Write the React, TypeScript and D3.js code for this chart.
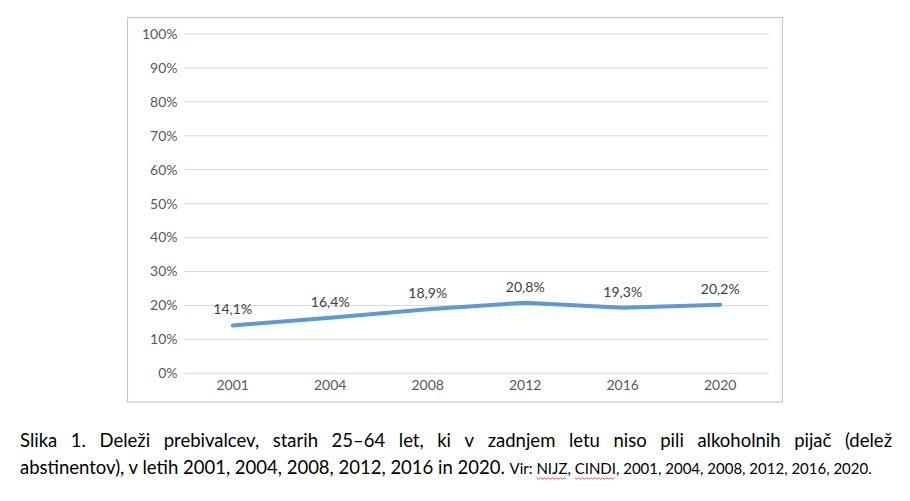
import * as React from 'react';
import { useRef, useEffect } from 'react';
import * as d3 from 'd3';

const years = ['2001', '2004', '2008', '2012', '2016', '2020'];
const abstainers = [14.1, 16.4, 18.9, 20.8, 19.3, 20.2];
const yTicks = [0, 10, 20, 30, 40, 50, 60, 70, 80, 90, 100];

const captionLine1 = 'Slika 1. Deleži prebivalcev, starih 25–64 let, ki v zadnjem letu niso pili alkoholnih pijač (delež';
const captionLine2 = 'abstinentov), v letih 2001, 2004, 2008, 2012, 2016 in 2020.';
const sourceParts = ['Vir: ', 'NIJZ', ', ', 'CINDI', ', 2001, 2004, 2008, 2012, 2016, 2020.'];
const misspelled = ['NIJZ', 'CINDI'];

const W = 910;
const H = 501;
const fmt = (v: number) => v.toFixed(1).replace('.', ',') + '%';

export default function App() {
  const svgRef = useRef<SVGSVGElement | null>(null);

  useEffect(() => {
    if (!svgRef.current) return;
    const svg = d3.select(svgRef.current);
    svg.selectAll('*').remove();

    const font = 'Lato, "Open Sans", sans-serif';
    const plot = { left: 184, right: 769, top: 34, bottom: 373.3 };

    // chart frame
    svg.append('rect')
      .attr('x', 127.5).attr('y', 17.5)
      .attr('width', 655).attr('height', 384.5)
      .attr('fill', '#fff').attr('stroke', '#c8c8c8').attr('stroke-width', 1.2);

    const x = d3.scaleBand().domain(years).range([plot.left, plot.right]);
    const y = d3.scaleLinear().domain([0, 100]).range([plot.bottom, plot.top]);

    const g = svg.append('g');

    // gridlines + y labels
    yTicks.forEach(t => {
      g.append('line')
        .attr('x1', plot.left).attr('x2', plot.right)
        .attr('y1', y(t)).attr('y2', y(t))
        .attr('stroke', '#d9d9d9').attr('stroke-width', 1);
      g.append('text')
        .attr('x', 177.5).attr('y', y(t))
        .attr('dy', '0.35em')
        .attr('text-anchor', 'end')
        .attr('font-family', font).attr('font-size', 14)
        .attr('fill', '#595959')
        .text(`${t}%`);
    });

    // x labels
    years.forEach(yr => {
      g.append('text')
        .attr('x', x(yr)! + x.bandwidth() / 2).attr('y', 385)
        .attr('dy', '0.35em')
        .attr('text-anchor', 'middle')
        .attr('font-family', font).attr('font-size', 14)
        .attr('fill', '#595959')
        .text(yr);
    });

    // line
    const line = d3.line<number>()
      .x((_, i) => x(years[i])! + x.bandwidth() / 2)
      .y(d => y(d));
    g.append('path')
      .datum(abstainers)
      .attr('d', line)
      .attr('fill', 'none')
      .attr('stroke', '#5b9bd5')
      .attr('stroke-width', 4)
      .attr('stroke-linecap', 'round')
      .attr('stroke-linejoin', 'round');

    // data labels
    abstainers.forEach((v, i) => {
      g.append('text')
        .attr('x', x(years[i])! + x.bandwidth() / 2)
        .attr('y', y(v) - 16)
        .attr('dy', '0.35em')
        .attr('text-anchor', 'middle')
        .attr('font-family', font).attr('font-size', 14)
        .attr('fill', '#404040')
        .text(fmt(v));
    });

    // caption, line 1 justified
    const capFont = 18.5;
    const left = 20;
    const right = 892;
    const words = captionLine1.split(' ');
    const wordNodes = words.map(w =>
      svg.append('text')
        .attr('y', 447)
        .attr('font-family', font).attr('font-size', capFont)
        .attr('fill', '#000')
        .text(w)
    );
    const widths = wordNodes.map(n => (n.node() as SVGTextElement).getComputedTextLength());
    const gap = (right - left - d3.sum(widths)) / (words.length - 1);
    let cx = left;
    wordNodes.forEach((n, i) => {
      n.attr('x', cx);
      cx += widths[i] + gap;
    });

    // caption line 2
    const l2 = svg.append('text')
      .attr('x', left).attr('y', 474)
      .attr('font-family', font).attr('font-size', capFont)
      .attr('fill', '#000')
      .style('white-space', 'pre')
      .text(captionLine2 + ' ');
    let sx = left + (l2.node() as SVGTextElement).getComputedTextLength();

    sourceParts.forEach(part => {
      const t = svg.append('text')
        .attr('x', sx).attr('y', 474)
        .attr('font-family', font).attr('font-size', 15)
        .attr('fill', '#000')
        .style('white-space', 'pre')
        .text(part);
      const w = (t.node() as SVGTextElement).getComputedTextLength();
      if (misspelled.includes(part)) {
        const pts: [number, number][] = [];
        for (let px = 0; px <= w; px += 2) pts.push([sx + px, 478 + (Math.round(px / 2) % 2 ? 1.2 : -0.2)]);
        svg.append('path')
          .attr('d', d3.line()(pts))
          .attr('fill', 'none').attr('stroke', '#e03030').attr('stroke-width', 0.8);
      }
      sx += w;
    });
  }, []);

  return (
    <svg
      ref={svgRef}
      width={W}
      height={H}
      style={{ position: 'absolute', left: 0, top: 0, display: 'block', background: '#fff' }}
    />
  );
}
